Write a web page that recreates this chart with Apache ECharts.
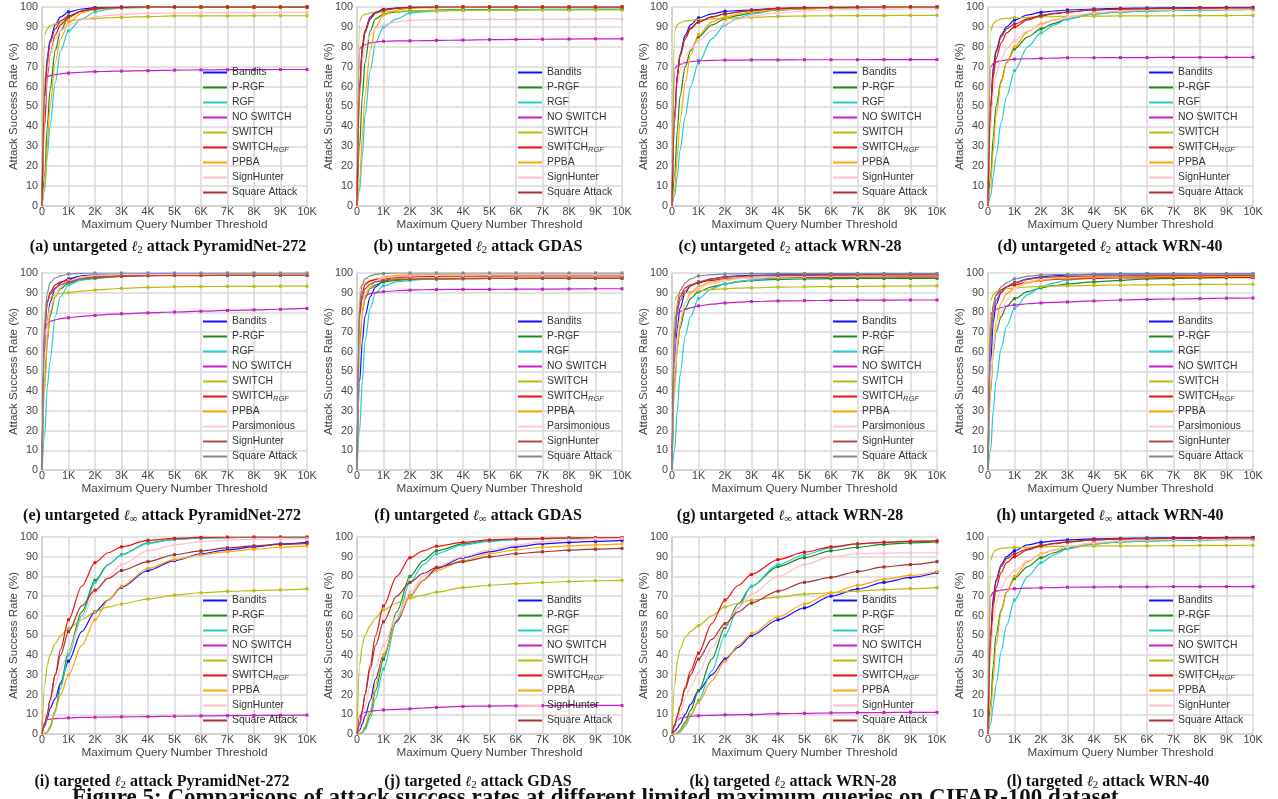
<!DOCTYPE html>
<html>
<head>
<meta charset="utf-8">
<script src="https://cdn.jsdelivr.net/npm/echarts@6/dist/echarts.min.js"></script>
<style>
html, body { margin: 0; padding: 0; background: #fff; }
#chart { width: 1278px; height: 799px; }
</style>
</head>
<body>
<div id="chart"></div>
<script>
// query thresholds where the curves were read
const QUERIES = [0, 100, 200, 300, 500, 700, 1000, 1500, 2000, 2500, 3000, 4000, 5000, 6000, 7000, 8000, 9000, 10000];
const X_TICK_LABELS = ['0', '1K', '2K', '3K', '4K', '5K', '6K', '7K', '8K', '9K', '10K'];

const NAMES_L2 = ['Bandits', 'P-RGF', 'RGF', 'NO SWITCH', 'SWITCH', 'SWITCH_RGF', 'PPBA', 'SignHunter', 'Square Attack'];
const NAMES_LINF = ['Bandits', 'P-RGF', 'RGF', 'NO SWITCH', 'SWITCH', 'SWITCH_RGF', 'PPBA', 'Parsimonious', 'SignHunter', 'Square Attack'];
const COLORS_L2 = ['#1010ff', '#1a8a1a', '#22cccc', '#c81ec8', '#bcbc10', '#f01010', '#ffa500', '#ffbfc8', '#a83030'];
const COLORS_LINF = ['#1010ff', '#1a8a1a', '#22cccc', '#c81ec8', '#bcbc10', '#f01010', '#ffa500', '#ffc8d0', '#b04848', '#7a8898'];

// (a) untargeted l2 PyramidNet-272
const rateA = [
  [0, 55, 75, 83, 91, 95, 97.5, 99, 99.7, 99.9, 100, 100, 100, 100, 100, 100, 100, 100],
  [0, 15, 40, 58, 78, 88, 95, 98, 99.2, 99.6, 99.8, 100, 100, 100, 100, 100, 100, 100],
  [0, 8, 25, 40, 62, 78, 88, 94, 97.5, 98.8, 99.5, 99.8, 100, 100, 100, 100, 100, 100],
  [0, 64, 65, 65.5, 66, 66.4, 66.8, 67.2, 67.5, 67.7, 67.8, 68, 68.3, 68.4, 68.5, 68.5, 68.6, 68.6],
  [0, 86, 89, 90.5, 91.5, 92, 93, 93.8, 94.3, 94.6, 94.8, 95.2, 95.5, 95.5, 95.5, 95.6, 95.6, 95.6],
  [0, 40, 65, 76, 86, 91, 95, 98, 99.3, 99.6, 99.8, 100, 100, 100, 100, 100, 100, 100],
  [0, 10, 30, 50, 72, 84, 92, 97, 98.7, 99.3, 99.6, 99.8, 100, 100, 100, 100, 100, 100],
  [0, 50, 68, 76, 84, 88, 91, 93.5, 95, 95.8, 96.3, 96.8, 97, 97.1, 97.2, 97.2, 97.3, 97.3],
  [0, 55, 72, 82, 89, 93, 95.5, 98, 99, 99.5, 99.8, 100, 100, 100, 100, 100, 100, 100]
];
// (b) untargeted l2 GDAS
const rateB = [
  [0, 60, 80, 88, 95, 97.5, 98.8, 99.5, 100, 100, 100, 100, 100, 100, 100, 100, 100, 100],
  [0, 30, 55, 72, 88, 94, 96.5, 97.5, 98, 98.2, 98.5, 98.6, 98.7, 98.7, 98.8, 98.8, 98.8, 98.8],
  [0, 8, 25, 45, 68, 82, 90, 94, 97, 97.6, 98, 98.3, 98.5, 98.6, 98.7, 98.7, 98.8, 98.8],
  [0, 79, 80.5, 81, 82, 82.4, 82.8, 83, 83, 83.1, 83.2, 83.4, 83.6, 83.7, 83.8, 83.9, 84, 84],
  [0, 93, 95.5, 96.3, 97, 97.3, 97.5, 97.8, 98, 98.1, 98.2, 98.3, 98.4, 98.4, 98.5, 98.5, 98.5, 98.5],
  [0, 55, 78, 87, 94, 97, 98.5, 99.3, 99.7, 99.9, 100, 100, 100, 100, 100, 100, 100, 100],
  [0, 12, 35, 55, 78, 90, 96, 98.5, 99.3, 99.5, 99.7, 99.8, 100, 100, 100, 100, 100, 100],
  [0, 55, 72, 80, 86, 89, 91, 92.5, 93.3, 93.5, 93.6, 93.7, 93.8, 93.8, 93.9, 93.9, 94, 94],
  [0, 58, 80, 88, 94, 97, 98.5, 99.4, 99.8, 99.9, 100, 100, 100, 100, 100, 100, 100, 100]
];
// (c) untargeted l2 WRN-28
const rateC = [
  [0, 45, 65, 76, 86, 91, 94.5, 96.5, 97.8, 98.2, 98.5, 99.3, 99.6, 99.8, 99.9, 100, 100, 100],
  [0, 15, 38, 55, 70, 78, 85, 91, 94, 95.8, 97, 98.5, 99.2, 99.5, 99.7, 99.8, 99.8, 99.8],
  [0, 5, 15, 28, 45, 60, 72, 84, 91, 94.5, 96.5, 98.5, 99.2, 99.5, 99.7, 99.8, 99.8, 99.8],
  [0, 69, 70.5, 71.2, 72, 72.5, 73, 73.2, 73.3, 73.3, 73.4, 73.4, 73.5, 73.5, 73.5, 73.6, 73.6, 73.6],
  [0, 88, 91, 92, 93, 93.3, 93.5, 94, 94.3, 94.6, 94.8, 95.3, 95.5, 95.6, 95.7, 95.7, 95.8, 95.8],
  [0, 42, 65, 75, 84, 89, 92.5, 95, 96.5, 97.5, 98.3, 99.3, 99.6, 99.8, 99.9, 100, 100, 100],
  [0, 8, 25, 42, 62, 76, 86, 92.5, 95, 96.5, 97.5, 98.7, 99.2, 99.5, 99.7, 99.8, 99.8, 99.8],
  [0, 45, 60, 68, 75, 79, 83, 88, 91.5, 93.8, 95.5, 97, 98, 98.5, 98.7, 98.9, 99, 99],
  [0, 45, 66, 76, 85, 89.5, 92.5, 95, 96.5, 97.5, 98.3, 99.2, 99.6, 99.8, 99.9, 100, 100, 100]
];
// (d) untargeted l2 WRN-40
const rateD = [
  [0, 50, 70, 78, 86, 90, 93.5, 96, 97.3, 98, 98.5, 99, 99.3, 99.5, 99.6, 99.7, 99.8, 99.8],
  [0, 15, 35, 50, 63, 72, 79, 85, 89, 91.8, 94, 96.5, 97.5, 98, 98.3, 98.5, 98.7, 98.8],
  [0, 5, 15, 25, 42, 55, 68, 80, 87, 91, 94, 96.5, 97.5, 98, 98.3, 98.5, 98.7, 98.8],
  [0, 70, 71.5, 72.3, 73, 73.4, 73.8, 74, 74.2, 74.3, 74.5, 74.5, 74.6, 74.6, 74.7, 74.7, 74.7, 74.7],
  [0, 88, 91.5, 93, 94, 94.3, 94.6, 94.8, 95, 95.2, 95.3, 95.4, 95.5, 95.5, 95.6, 95.7, 95.7, 95.8],
  [0, 45, 65, 74, 82, 87, 90, 93.5, 95.5, 96.6, 97.5, 98.5, 99, 99.2, 99.3, 99.4, 99.5, 99.5],
  [0, 10, 28, 45, 62, 72, 80, 87.5, 91.5, 93.5, 95, 97, 98, 98.5, 98.7, 98.8, 98.9, 99],
  [0, 40, 58, 66, 74, 79, 83, 88, 91, 93.3, 95, 97, 98, 98.5, 98.7, 98.8, 98.9, 99],
  [0, 50, 68, 77, 85, 89, 91.5, 94, 95.8, 96.8, 97.5, 98.5, 99, 99.2, 99.3, 99.4, 99.5, 99.5]
];
// (e) untargeted linf PyramidNet-272
const rateE = [
  [0, 60, 75, 85, 92, 95, 97, 98.5, 99, 99.2, 99.3, 99.4, 99.4, 99.5, 99.5, 99.5, 99.5, 99.5],
  [0, 45, 65, 78, 88, 92, 95, 96.5, 97.3, 97.8, 98.3, 98.8, 98.9, 99, 99, 99, 99, 99],
  [0, 17, 42, 55, 78, 88, 94, 96.5, 97.5, 98, 98.5, 98.7, 98.8, 98.9, 99, 99, 99, 99],
  [0, 72, 74.5, 75.5, 76.2, 76.8, 77.3, 78, 78.5, 79, 79.3, 79.8, 80.2, 80.6, 81, 81.3, 81.6, 82],
  [0, 83, 86, 87.5, 89, 89.5, 90, 90.8, 91.3, 91.8, 92.2, 92.7, 93, 93.1, 93.2, 93.2, 93.3, 93.3],
  [0, 70, 85, 90, 94, 95.5, 96.5, 97.5, 98, 98.3, 98.5, 98.7, 98.8, 98.9, 99, 99, 99, 99],
  [0, 40, 65, 80, 88, 93, 96, 97.7, 98.5, 98.8, 99, 99.1, 99.2, 99.2, 99.3, 99.3, 99.3, 99.3],
  [0, 55, 75, 83, 89, 93, 96, 98, 98.8, 99, 99.2, 99.3, 99.4, 99.4, 99.5, 99.5, 99.5, 99.5],
  [0, 72, 85, 89, 92.5, 94, 95.5, 97, 97.8, 98.2, 98.5, 98.6, 98.7, 98.7, 98.8, 98.8, 98.8, 98.8],
  [0, 75, 90, 95, 97.5, 98.5, 99.5, 99.8, 100, 100, 100, 100, 100, 100, 100, 100, 100, 100]
];
// (f) untargeted linf GDAS
const rateF = [
  [0, 45, 65, 78, 88, 93, 96, 98, 98.5, 98.7, 98.8, 98.9, 99, 99, 99, 99, 99, 99],
  [0, 65, 80, 87, 92, 94, 95.5, 96.3, 96.8, 96.9, 97, 97.1, 97.2, 97.2, 97.3, 97.3, 97.3, 97.3],
  [0, 20, 45, 65, 82, 90, 93.5, 95.5, 96.3, 96.7, 97, 97.2, 97.3, 97.4, 97.5, 97.5, 97.5, 97.5],
  [0, 84, 87, 88.5, 89.5, 90, 90.5, 91, 91.3, 91.5, 91.6, 91.7, 91.7, 91.8, 91.8, 91.9, 92, 92],
  [0, 92, 94, 95, 96, 96.5, 97, 97.2, 97.3, 97.3, 97.4, 97.4, 97.5, 97.5, 97.5, 97.5, 97.5, 97.5],
  [0, 80, 90, 94, 96, 96.8, 97.3, 97.8, 98, 98.2, 98.3, 98.4, 98.4, 98.5, 98.5, 98.5, 98.5, 98.5],
  [0, 60, 80, 88, 93, 96, 98, 98.8, 99, 99.1, 99.2, 99.2, 99.3, 99.3, 99.3, 99.3, 99.3, 99.3],
  [0, 70, 84, 90, 94, 96, 97.5, 98.2, 98.5, 98.7, 98.8, 98.9, 99, 99, 99, 99, 99, 99],
  [0, 78, 88, 92, 94.5, 95.5, 96.3, 96.6, 96.8, 97, 97, 97.1, 97.2, 97.2, 97.3, 97.3, 97.3, 97.3],
  [0, 85, 94, 97, 98.5, 99.3, 99.8, 100, 100, 100, 100, 100, 100, 100, 100, 100, 100, 100]
];
// (g) untargeted linf WRN-28
const rateG = [
  [0, 55, 72, 82, 90, 93.5, 95, 97, 98, 98.5, 98.8, 99, 99, 99, 99, 99, 99, 99],
  [0, 45, 62, 72, 82, 87, 90.5, 93, 94.5, 95.5, 96.2, 96.8, 97, 97.1, 97.2, 97.2, 97.3, 97.3],
  [0, 10, 30, 48, 68, 78, 87, 92, 94.5, 95.7, 96.5, 97.5, 97.7, 97.8, 97.9, 98, 98, 98],
  [0, 77, 79.5, 80.5, 81.5, 82.3, 83.3, 84.2, 84.8, 85.2, 85.5, 85.8, 86, 86.1, 86.2, 86.2, 86.3, 86.3],
  [0, 86, 88.5, 89.5, 90, 90.5, 91, 91.6, 92, 92.3, 92.5, 92.8, 93, 93.1, 93.2, 93.3, 93.4, 93.5],
  [0, 68, 82, 88, 92.5, 94, 95.3, 96.3, 97, 97.3, 97.5, 97.7, 97.8, 97.9, 98, 98, 98, 98],
  [0, 40, 62, 74, 85, 90, 93, 95.5, 96.8, 97.3, 97.7, 98, 98.2, 98.3, 98.4, 98.5, 98.5, 98.5],
  [0, 50, 68, 77, 85, 89, 92, 94.5, 96, 97, 97.5, 98, 98.3, 98.5, 98.6, 98.7, 98.8, 98.8],
  [0, 65, 80, 86, 91, 93.5, 95.5, 97, 97.8, 98.2, 98.5, 98.7, 98.8, 98.9, 99, 99, 99, 99],
  [0, 70, 85, 91, 95, 97, 98.5, 99.2, 99.5, 99.6, 99.7, 99.8, 99.8, 99.8, 99.8, 99.8, 99.8, 99.8]
];
// (h) untargeted linf WRN-40
const rateH = [
  [0, 55, 75, 84, 90, 93, 95, 97, 98, 98.6, 99, 99.3, 99.5, 99.5, 99.5, 99.5, 99.5, 99.5],
  [0, 40, 60, 70, 78, 83, 87, 90.5, 92.5, 93.6, 94.5, 95.5, 96.3, 97, 97.3, 97.5, 97.6, 97.7],
  [0, 10, 30, 45, 62, 73, 82, 89, 93, 95, 96.5, 97.5, 98, 98.3, 98.5, 98.6, 98.7, 98.8],
  [0, 79, 80.5, 81.5, 82.5, 83.2, 83.8, 84.4, 84.8, 85.1, 85.3, 85.8, 86.3, 86.6, 86.8, 87, 87.2, 87.3],
  [0, 86, 89, 90.5, 91.5, 92, 92.5, 92.9, 93.2, 93.4, 93.5, 93.7, 93.9, 94, 94.1, 94.2, 94.3, 94.3],
  [0, 70, 84, 88.5, 91.5, 93, 94, 95.5, 96.3, 96.7, 97, 97.3, 97.5, 97.6, 97.7, 97.7, 97.8, 97.8],
  [0, 40, 62, 75, 85, 89.5, 92.5, 95, 96.5, 97.1, 97.5, 97.8, 98, 98.1, 98.2, 98.2, 98.3, 98.3],
  [0, 45, 62, 72, 80, 86, 92, 95.5, 97, 97.6, 98, 98.4, 98.6, 98.8, 98.9, 99, 99, 99],
  [0, 65, 80, 86, 90.5, 93, 95, 96.8, 97.7, 98, 98.3, 98.5, 98.6, 98.7, 98.8, 98.8, 98.8, 98.8],
  [0, 68, 83, 89, 93, 95, 97, 98.3, 99, 99.2, 99.3, 99.4, 99.5, 99.5, 99.5, 99.5, 99.5, 99.5]
];
// (i) targeted l2 PyramidNet-272
const rateI = [
  [0, 4, 8, 13, 18, 26, 37, 52, 62, 68, 74.5, 83, 88, 91.5, 93.5, 95, 96.5, 97.3],
  [0, 0.3, 1, 3, 12, 25, 42, 62, 78, 86, 91, 97, 98.8, 99.5, 99.7, 99.8, 99.8, 99.8],
  [0, 0.3, 1, 3, 11, 23, 40, 60, 77, 86, 91, 96.8, 98.8, 99.5, 99.7, 99.8, 99.8, 99.8],
  [0, 6, 7.3, 7.5, 7.8, 8, 8.2, 8.4, 8.5, 8.6, 8.7, 8.8, 9, 9.2, 9.3, 9.4, 9.5, 9.6],
  [0, 25, 35, 40, 46, 50, 53.5, 58, 62, 64.5, 66, 68.5, 70.5, 71.7, 72.4, 72.8, 73.2, 73.7],
  [0, 5, 10, 17, 30, 43, 58, 75, 87, 92, 95, 98.3, 99.3, 99.8, 100, 100, 100, 100],
  [0, 0.3, 1, 4, 12, 20, 30, 45, 58, 68, 75, 84, 88.5, 91, 92.6, 93.8, 94.8, 95.5],
  [0, 5, 10, 16, 25, 33, 42, 58, 72, 80, 86, 93, 96, 97.7, 98.5, 98.8, 99, 99],
  [0, 5, 10, 17, 30, 40, 52, 65, 73, 79, 83, 87.5, 91, 93, 94.5, 95.5, 96.3, 96.8]
];
// (j) targeted l2 GDAS
const rateJ = [
  [0, 2, 5, 9, 17, 28, 40, 57, 70, 78, 84, 89.5, 92.5, 95, 96.5, 97.3, 97.8, 98.3],
  [0, 0.3, 1, 3, 10, 22, 38, 62, 80, 88, 93, 96.5, 98, 98.8, 99.2, 99.4, 99.5, 99.5],
  [0, 0.1, 0.5, 2, 8, 18, 33, 58, 77, 86, 91.5, 96, 97.8, 98.8, 99.2, 99.4, 99.5, 99.5],
  [0, 9, 10.5, 11, 11.5, 11.9, 12.2, 12.5, 12.8, 13.2, 13.5, 14, 14.2, 14.3, 14.4, 14.5, 14.5, 14.5],
  [0, 35, 45, 50, 55, 59, 63, 66.5, 69, 70.5, 72, 74.3, 75.5, 76.3, 76.9, 77.4, 77.8, 78],
  [0, 5, 12, 20, 35, 50, 65, 80, 89.5, 93, 95.3, 97.3, 98.5, 99, 99.3, 99.5, 99.6, 99.7],
  [0, 0.3, 1, 4, 12, 25, 40, 58, 70, 78, 83, 88, 91.5, 93.5, 94.8, 95.5, 96, 96.5],
  [0, 3, 8, 14, 25, 34, 45, 60, 72, 80, 85, 90, 93.5, 96, 97.5, 98.5, 99, 99.3],
  [0, 5, 12, 20, 33, 45, 57, 70, 77, 81.5, 84.5, 87.5, 90, 91.5, 92.5, 93.3, 93.8, 94.2]
];
// (k) targeted l2 WRN-28
const rateK = [
  [0, 1.5, 3, 5, 10, 15, 22, 30, 38, 44, 50, 58, 64, 70, 73.5, 77, 79.5, 82],
  [0, 0.2, 0.5, 2, 6, 12, 22, 38, 54, 66, 75, 85, 89.5, 93, 94.8, 96.3, 97, 97.5],
  [0, 0.1, 0.2, 1, 4, 9, 17, 32, 50, 64, 75, 86, 91, 94.5, 96.5, 97.3, 97.8, 98],
  [0, 5, 7, 8, 8.5, 9, 9.3, 9.5, 9.7, 9.8, 9.8, 10.3, 10.5, 10.7, 10.8, 10.9, 11, 11],
  [0, 25, 37, 43, 49, 52, 55, 60, 64.5, 66.5, 68, 69.5, 71, 71.7, 72.5, 73.3, 73.8, 74.3],
  [0, 4, 9, 14, 24, 32, 41, 56, 68, 75.5, 81, 88.5, 92.3, 95, 96.5, 97.3, 97.8, 98],
  [0, 0.2, 0.5, 1.5, 5, 10, 16, 27, 37, 45, 51, 59.5, 66, 71.5, 75.5, 78.5, 80.5, 82.5],
  [0, 3, 7, 11, 18, 24, 31, 44, 55, 64, 71, 80, 86, 90, 91.5, 91.8, 92, 92],
  [0, 4, 9, 14, 23, 30, 38, 48, 56, 62, 66.5, 72.5, 77, 79.5, 82.5, 84.8, 86, 87.5]
];
// (l) targeted l2 WRN-40
const rateL = [
  [0, 50, 70, 78, 86, 90, 93, 96, 97.3, 98, 98.5, 99, 99.3, 99.5, 99.6, 99.7, 99.8, 99.8],
  [0, 15, 35, 50, 63, 72, 79, 85, 89.5, 92, 94.5, 96.5, 97.5, 98, 98.3, 98.5, 98.7, 98.8],
  [0, 5, 15, 25, 42, 55, 68, 80, 87, 91, 94, 96.5, 97.5, 98, 98.3, 98.5, 98.7, 98.8],
  [0, 70, 72, 72.5, 73, 73.4, 73.8, 74, 74.2, 74.3, 74.5, 74.6, 74.7, 74.7, 74.8, 74.8, 74.8, 74.8],
  [0, 88, 92, 93.5, 94.3, 94.5, 94.6, 94.8, 95, 95.2, 95.3, 95.4, 95.5, 95.5, 95.6, 95.7, 95.7, 95.8],
  [0, 45, 65, 74, 82, 87, 90, 93.5, 95.5, 96.6, 97.5, 98.5, 99, 99.2, 99.3, 99.4, 99.5, 99.5],
  [0, 10, 28, 45, 62, 72, 80, 87.5, 91.5, 93.5, 95, 97, 98, 98.5, 98.7, 98.8, 98.9, 99],
  [0, 40, 58, 66, 74, 79, 83, 88, 91, 93.3, 95, 97, 98, 98.5, 98.7, 98.8, 98.9, 99],
  [0, 50, 68, 77, 85, 89, 91.5, 94, 95.8, 96.8, 97.5, 98.5, 99, 99.2, 99.3, 99.4, 99.5, 99.5]
];

const CAPTIONS = [
  ['(a) untargeted ', '2', ' attack PyramidNet-272'],
  ['(b) untargeted ', '2', ' attack GDAS'],
  ['(c) untargeted ', '2', ' attack WRN-28'],
  ['(d) untargeted ', '2', ' attack WRN-40'],
  ['(e) untargeted ', '∞', ' attack PyramidNet-272'],
  ['(f) untargeted ', '∞', ' attack GDAS'],
  ['(g) untargeted ', '∞', ' attack WRN-28'],
  ['(h) untargeted ', '∞', ' attack WRN-40'],
  ['(i) targeted ', '2', ' attack PyramidNet-272'],
  ['(j) targeted ', '2', ' attack GDAS'],
  ['(k) targeted ', '2', ' attack WRN-28'],
  ['(l) targeted ', '2', ' attack WRN-40']
];
const FIGURE_CAPTION = 'Figure 5: Comparisons of attack success rates at different limited maximum queries on CIFAR-100 dataset.';

const panelRates = [rateA, rateB, rateC, rateD, rateE, rateF, rateG, rateH, rateI, rateJ, rateK, rateL];

// layout in pixels
const COL_LEFT = [42, 357, 672, 988];
const ROW_TOP = [7, 273, 537];
const ROW_H = [199, 197, 197];
const PLOT_W = 265;
const CAP_X = [[168, 478, 790, 1110], [162, 478, 790, 1110], [162, 478, 793, 1108]];
const CAP_Y = [247, 516, 782];
const LEGEND_TOP = [66, 315, 594];

const chart = echarts.init(document.getElementById('chart'), null, { renderer: 'canvas' });

const grids = [], xAxes = [], yAxes = [], legends = [], series = [], graphics = [];
const SANS = 'Liberation Sans, Arial, sans-serif';
const SERIF = 'Liberation Serif, DejaVu Serif, serif';

panelRates.forEach((rates, p) => {
  const row = Math.floor(p / 4), col = p % 4;
  const isInf = row === 1;
  const names = isInf ? NAMES_LINF : NAMES_L2;
  const colors = isInf ? COLORS_LINF : COLORS_L2;

  grids.push({ left: COL_LEFT[col], top: ROW_TOP[row], width: PLOT_W, height: ROW_H[row] });

  xAxes.push({
    gridIndex: p, type: 'value', min: 0, max: 10000, interval: 1000,
    name: 'Maximum Query Number Threshold', nameLocation: 'middle', nameGap: 13, nameMoveOverlap: false,
    nameTextStyle: { fontFamily: SANS, fontSize: 11.7, color: '#444' },
    axisLine: { lineStyle: { color: '#cfcfcf', width: 1.5 } },
    axisTick: { show: false },
    axisLabel: { margin: 1, fontFamily: SANS, fontSize: 10.8, color: '#444',
      formatter: v => X_TICK_LABELS[Math.round(v / 1000)] },
    splitLine: { lineStyle: { color: '#d9d9d9', width: 1.5 } }
  });
  yAxes.push({
    gridIndex: p, type: 'value', min: 0, max: 100, interval: 10,
    name: 'Attack Success Rate (%)', nameLocation: 'middle', nameGap: 22, nameMoveOverlap: false,
    nameTextStyle: { fontFamily: SANS, fontSize: 11.5, color: '#444' },
    axisLine: { show: true, lineStyle: { color: '#cfcfcf', width: 1.5 } },
    axisTick: { show: false },
    axisLabel: { margin: 4, fontFamily: SANS, fontSize: 10.8, color: '#444' },
    splitLine: { lineStyle: { color: '#d9d9d9', width: 1.5 } }
  });

  legends.push({
    left: COL_LEFT[col] + 161, top: LEGEND_TOP[row],
    orient: 'vertical', icon: 'rect', itemWidth: 24, itemHeight: 2, itemGap: 2,
    padding: 0, selectedMode: false,
    data: names.map((n, i) => ({ name: n, itemStyle: { color: colors[i] } })),
    formatter: n => n === 'SWITCH_RGF' ? '{m|SWITCH}{s|RGF}' : n,
    textStyle: {
      fontFamily: SANS, fontSize: 10.4, color: '#333', lineHeight: 13,
      rich: {
        m: { fontFamily: SANS, fontSize: 10.4, color: '#333', lineHeight: 13 },
        s: { fontFamily: SANS, fontSize: 7.5, fontStyle: 'italic', color: '#333', lineHeight: 13, padding: [4, 0, 0, 0] }
      }
    }
  });

  rates.forEach((vals, i) => {
    series.push({
      name: names[i], type: 'line', xAxisIndex: p, yAxisIndex: p,
      smooth: 0.3, smoothMonotone: 'x',
      symbol: 'rect', symbolSize: 3, showSymbol: true,
      lineStyle: { width: 1.2, color: colors[i] },
      itemStyle: { color: colors[i] },
      emphasis: { disabled: true },
      data: vals.map((v, k) => {
        const q = QUERIES[k];
        return (q > 0 && q % 1000 === 0) ? [q, v] : { value: [q, v], symbol: 'none' };
      })
    });
  });

  const cap = CAPTIONS[p];
  graphics.push({
    type: 'text', x: CAP_X[row][col], y: CAP_Y[row],
    style: {
      text: '{b|' + cap[0] + '}{l|ℓ}{sub|' + cap[1] + '}{b|' + cap[2] + '}',
      align: 'center', verticalAlign: 'middle',
      rich: {
        b: { fontFamily: SERIF, fontWeight: 'bold', fontSize: 16, fill: '#111' },
        l: { fontFamily: 'DejaVu Serif, serif', fontStyle: 'italic', fontSize: 14.5, fill: '#111' },
        sub: { fontFamily: SERIF, fontSize: 11, fill: '#111', padding: [7, 0, 0, 0] }
      }
    }
  });
});

graphics.push({
  type: 'text', x: 72, y: 787,
  style: { text: FIGURE_CAPTION, fontFamily: SERIF, fontWeight: 'bold', fontSize: 23, fill: '#111', verticalAlign: 'top' }
});

chart.setOption({
  animation: false,
  backgroundColor: '#fff',
  grid: grids,
  xAxis: xAxes,
  yAxis: yAxes,
  legend: legends,
  series: series,
  graphic: graphics
});
</script>
</body>
</html>
